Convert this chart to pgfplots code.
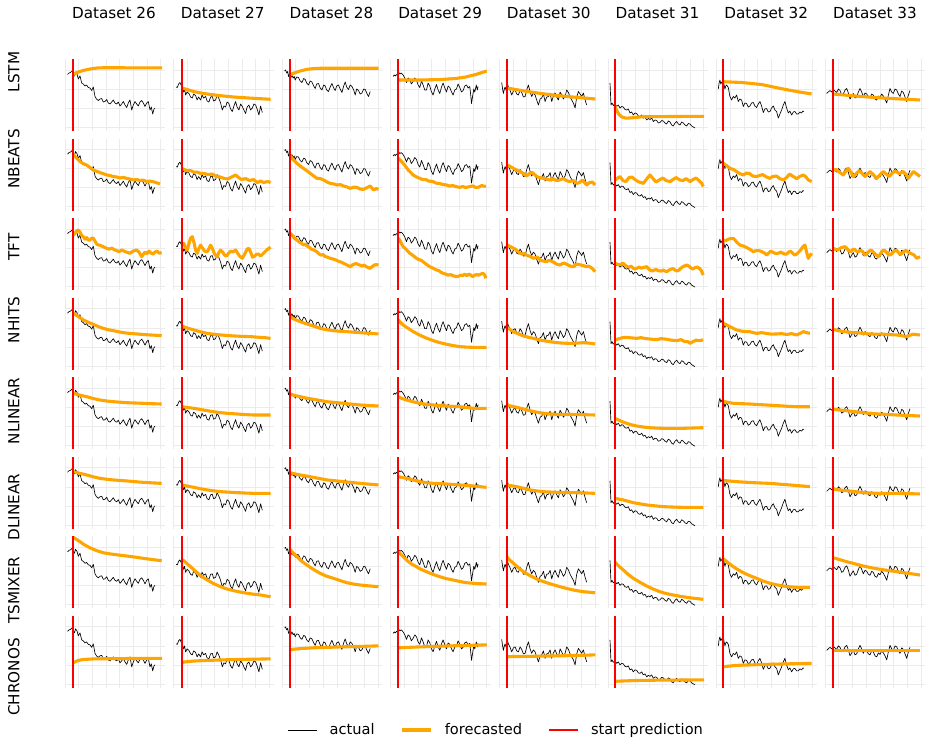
\documentclass[border=0pt]{standalone}
\usepackage{pgfplots}
\pgfplotsset{compat=1.18}
\usepackage{pgfplotstable}
\usepackage{fontspec}
\setmainfont{DejaVu Sans}
\definecolor{fcorange}{HTML}{FFA500}
\definecolor{gridgray}{HTML}{EBEBEB}

% actual series, x and y in panel units (y measured from top)
\pgfplotstableread{
x y
2.5 15.5
4 14
5.5 13.5
7 12
8.3 14.5
9.5 17
10.5 13
12 15
13.3 20
15 17
16.7 24
18.3 25
20 27
21.5 26
23.3 28.5
25 29
26.7 31.5
28.3 28
30 37.5
31.5 40
33.3 41.5
35 40
36.7 39.5
38.3 43
40 42.5
41.7 40.5
43.3 44
45 45
46.7 43
48.3 41
50 44
51.7 45
53.3 43
55 47
56.7 45
58.3 42.5
60 46
61.7 48.5
63.3 44
65 41
66.7 51
68.3 46
70 42.5
71.7 45
73.3 47
75 43
76.7 41.5
78.3 44
80 47.5
81.7 44
83.3 42.5
85 51
86.3 48
87.7 55
89 50
90 49
}\actA
\pgfplotstableread{
x y
2.5 28
3.7 28.5
5 25
6.3 23.5
7.5 26
8.7 28.5
10 33
11 30
12 36
13.5 33
15.3 34.5
17 38
18.7 39
20 35
22 36.5
23.5 41
25 38
27 41
28.5 36
30 39
32 37.5
33.5 42
35.3 43
37 38
38.7 37.5
40 42
42 41
43.5 36
45.3 39.5
47 44
48.7 51
50.3 47
52 48
53.5 43
55.3 44.5
57 50
58.7 52.5
60.3 47
62 42.5
63.5 48
65.3 51
67 45
68.7 47.5
70.3 51
72 54.5
73.5 48
75.3 46
77 51
78.7 49
80.3 45
82 46
83.5 50
85.3 56
87 47
88.7 53.5
}\actB
\pgfplotstableread{
x y
2.5 12
3.3 11
4.5 14
5.5 12.5
6.3 17.5
7.5 15
8.5 19
9.7 16
11 19
12 17.5
13 21
14.5 18
16.3 18.5
18 22
19.7 23.5
21.5 19.5
23 20.5
24.5 24
26.3 26
28 22
29.7 23
31.5 27
33 29.5
34.5 25
36.3 24.5
38 29
39.7 31
41.5 26
43 27
44.5 31
46.3 32.5
48 28
49.7 24.5
51.5 29
53 31.5
54.5 27
56.3 26
58 30
59.7 33.5
61.5 27
63 23
64.5 28
66.3 30.5
68 26
69.7 27.5
71.5 31
73 36
74.5 30
76.3 31.5
78 35
79.7 34
81.5 30
83 30.5
84.5 34
86.3 37.5
88 32.5
}\actC
\pgfplotstableread{
x y
2.3 17.5
3.5 16
4.5 17
5.7 15.5
7 16.5
8 13.5
9 15
10.5 14
12.3 16
14 19
15.7 23.5
17.3 19
19 20.5
20.5 25
22.3 22.5
24 19
25.7 21
27.3 26
29 28.5
30.7 22
32.3 26
34 31
35.7 31
37.3 24
39 27
40.7 33
42.3 36
44 30
45.7 25.5
47.3 31
49 34.5
50.7 28
52.3 24
54 29
55.7 33
57.3 27
59 28.5
60.7 33
62.3 36
64 31
65.7 30
67.3 25
69 28.5
70.7 33
72.3 31.5
74 27
75.7 26
77.3 29
79 27.5
80 37
80.7 44.5
82 36
83 30
84 33
85.5 26
86.5 31
87.3 27.5
}\actD
\pgfplotstableread{
x y
2.3 23.5
3.2 30
4 34.5
5 30
5.7 28
7 32
8 24.5
9 28
10.5 31
12.3 36
14 32
15.7 31
17.3 35
19 36
20.7 31
22.3 33.5
24 38
25.7 37.5
27.3 31
29 26
30.7 33
32.3 37.5
34 34
35.7 36
37.3 41
39 46
40.7 40
42.3 39
44 35
45.7 42.5
47.3 38
49 37.5
50.7 34
52.3 42.5
54 37
55.7 34
57.3 38
59 41
60.7 33
62.3 36
64 40
65.7 37.5
67.3 31
69 33.5
70.7 38
72.3 41
74 44
75.7 49
77.3 38
79 32.5
80.7 35
82.3 37.5
84 34
85.7 41
87.3 46
}\actE
\pgfplotstableread{
x y
2 24
2.5 35
3 46
4 44
5.3 46.5
7 45
8.7 47.5
10.3 46
12 49
13.7 47.5
15.3 48
17 50.5
18.7 51
20.3 50
22 54
23.7 53
25.3 56
27 54
28.7 54.5
30.3 57
32 57.5
33.7 56
35.3 59
37 58
38.7 61
40.3 59.5
42 60.5
43.7 59
45.3 62.5
47 61
48.7 61.5
50.3 64
52 63.5
53.7 61.5
55.3 62
57 64
58.7 65
60.3 62
62 63
63.7 66
65.3 67
67 64
68.7 62.5
70.3 65
72 66
73.7 63
75.3 64
77 66
78.7 67
80.3 64.5
82 65
83.7 67
85.3 68
87 69
}\actF
\pgfplotstableread{
x y
1.7 30
2.5 24
3.3 21
4.2 25
5 23.5
5.8 22
6.7 20.5
7.5 26
8.3 30
9.2 27
10 26
11.7 28.5
13.3 37.5
15 41
16.7 37.5
18.3 39
20 36
21.7 42.5
23.3 40
25 41
26.7 47.5
28.3 44
30 44.5
31.7 48
33.3 47
35 44
36.7 43.5
38.3 47
40 48.5
41.7 45
43.3 42.5
45 47
46.7 53.5
48.3 50
50 49.5
51.7 53
53.3 52.5
55 49
56.7 47
58.3 51
60 52.5
61.7 59
63.3 55
65 51
66.7 46
68.3 42.5
70 49
71.7 54
73.3 52
75 56
76.7 53
78.3 52.5
80 55
81.7 55
83.3 53
85 54
86.3 52
87.3 52.5
}\actG
\pgfplotstableread{
x y
1.5 34.5
3 33
4.8 31.5
6.5 33
8.1 30.5
9.8 32
11.5 33.5
13.2 30
14.8 31.5
16.5 36
18.1 35
19.8 31
21.5 29.5
23.2 34
24.8 40
26.5 37
28.1 34.5
29.8 39
31.5 38
33.2 33
34.8 29.5
36.5 33
38.1 37.5
39.8 34
41.5 35
43.2 38
44.8 39
46.5 35
48.1 36
49.8 40
51.5 41
53.2 37
54.8 38.5
56.5 35
58.1 37
59.8 40
61.5 44
63.2 36
64.8 29.5
66.5 33
68.1 34.5
69.8 30
71.5 31
73.2 35
74.8 37.5
76.5 32
78.1 33.5
79.8 38
81.5 42.5
83.2 36
84.8 31.5
}\actH

\pgfplotsset{
 panel/.style={
  scale only axis, width=100pt, height=72pt, anchor=north west,
  xmin=0, xmax=100, ymin=0, ymax=72, y dir=reverse,
  axis line style={draw=none},
  xtick={0,13.7,27.4,41.1,54.8,68.5,82.2,95.9},
  ytick={11,30.3,49.3,68.3},
  xticklabels={}, yticklabels={},
  major tick length=0pt,
  grid=major, major grid style={draw=gridgray, line width=0.9pt},
  clip=false,
 },
 act/.style={black, line width=0.65pt, line join=round},
 fc/.style={fcorange, line width=3.1pt, line join=round},
 sp/.style={red, line width=2pt},
}

\newcommand{\panel}[5]{%
\begin{axis}[panel, at={({(65+108.6*#1)*1pt},{-(59+79.55*#2)*1pt})}]
\addplot[act] table {#3};
\addplot[fc] coordinates {#4};
\addplot[sp] coordinates {(#5,0) (#5,72)};
\end{axis}}

\newcommand{\lab}{\fontsize{15.2}{18}\selectfont}
\newcommand{\leg}{\fontsize{14.6}{17}\selectfont}

\begin{document}
\begin{tikzpicture}
\path[use as bounding box] (0pt,0pt) rectangle (930pt,-744pt);

% titles
\foreach \c/\t in {0/26,1/27,2/28,3/29,4/30,5/31,6/32,7/33}{
  \node[anchor=base, inner sep=0pt] at ({(114+108.7*\c)*1pt},-18.3pt) {\lab Dataset \t};
}
% row labels
\foreach \yy/\t in {72/LSTM,159/NBEATS,247/TFT,320/NHITS,411/NLINEAR,507/DLINEAR,590/TSMIXER,677/CHRONOS}{
  \node[rotate=90, anchor=base, inner sep=0pt] at (19.5pt,{-\yy*1pt}) {\lab \t};
}

% ---------- LSTM ----------
\panel{0}{0}{\actA}{(8.3,15.5)(12,13.5)(18,11.5)(25,10)(32,9)(40,8.7)(60,8.8)(97,8.8)}{8.3}
\panel{1}{0}{\actB}{(8.4,29)(20,32.5)(30,34.5)(45,36.5)(60,38)(75,39)(97,40.3)}{8.4}
\panel{2}{0}{\actC}{(7.8,16)(12,14)(18,12)(25,10.3)(32,9.5)(40,9.2)(60,9.2)(96.3,9.3)}{7.8}
\panel{3}{0}{\actD}{(7.5,21)(30,21)(50,20.5)(65,19.5)(75,18)(85,15.5)(96,12)}{7.5}
\panel{4}{0}{\actE}{(7.3,29)(25,32)(40,34.3)(55,36.2)(70,37.7)(96,40)}{7.3}
\panel{5}{0}{\actF}{(7,47.7)(9,52)(11,55.5)(14,58)(18,59.2)(24,58.8)(35,57.7)(96,57.3)}{7}
\panel{6}{0}{\actG}{(6.7,22.7)(25,23.5)(45,25.5)(65,29.7)(80,32.5)(95,35)}{6.7}
\panel{7}{0}{\actH}{(8.1,35)(30,37)(50,38.5)(70,39.7)(95,41)}{8.1}

% ---------- NBEATS ----------
\panel{0}{1}{\actA}{(8.3,16)(10,18)(13,21)(15,23)(18,25)(21.7,26.5)(25,29)(28.3,31.4)(31,32.5)(35,34)(38,35)(41.7,36.4)(45,37)(48.3,38)(52,38.5)(55,39.5)(58,38.8)(61.7,39.8)(65,40.5)(68.3,41.4)(72,41)(75,42)(78,41.5)(81.7,43)(85,42.5)(88,43)(91,44)(95,45.4)}{8.3}
\panel{1}{1}{\actB}{(8.4,30)(10.3,30.8)(13,32)(17,32)(20,33.5)(23.7,33.5)(27,35)(30.3,34.8)(34,36)(38.7,35.5)(42,37.5)(45,38)(50.3,39.8)(54,40.5)(57,39)(62,36.4)(65,39)(68,41)(72,40)(76,42)(80,41)(83.7,44)(87,42.5)(90,44)(94,43)(97,44)}{8.4}
\panel{2}{1}{\actC}{(7.8,17)(10,20)(14.7,24.8)(18,27.5)(21.3,29.8)(25,32.5)(28,34.8)(31,37)(34.7,39.8)(38,40)(41.3,41.4)(45,43.5)(48,44.8)(52,45.5)(55,46.5)(58,46)(61.3,47.4)(65,48.5)(68,49.8)(72,48.5)(75,49)(78,50.5)(81.3,50.8)(85,49)(88,47.4)(91.3,51.4)(94,50)(96.3,50.8)}{7.8}
\panel{3}{1}{\actD}{(7.5,19.8)(10,22)(12.3,24.8)(15,28)(17.3,31.4)(20,34)(22.3,36.4)(25,38)(29,39.8)(32,41)(35,41)(38,42.5)(42.3,43)(45,44.5)(49,45)(52,46)(55.7,46.4)(59,47.5)(62,47)(65,48)(69,48.8)(72,48)(75,49)(79,48)(82.3,47.4)(85,49)(88,48.5)(91,47)(95,48)}{7.5}
\panel{4}{1}{\actE}{(7.3,26.4)(10,27.5)(14,29.8)(17,31.5)(20.7,33)(24,35)(27.3,37.4)(30,35)(33,34)(37.3,38)(40,39)(44,39.8)(47,40.5)(50,41.5)(54,40.5)(57.3,42)(60,41.5)(64,40)(67,42)(70,43)(74,42)(77.3,44.8)(80,44)(83,41.5)(87.3,46.4)(90,44)(93,43.5)(95.7,46.4)}{7.3}
\panel{5}{1}{\actF}{(7,41.4)(9,40)(12,38)(15,42)(18,43)(21,39)(24,38.5)(27,41)(30,43)(35.3,44.8)(39,40)(42,36.4)(45,40)(48,43.5)(52,41)(55,39.5)(58,42)(62,43)(65,41)(68,39)(72,41.5)(75,42)(78,40)(82,43)(85,41)(88,39.5)(91,42)(93.7,44.8)(95.3,48)}{7}
\panel{6}{1}{\actG}{(6.7,24.8)(10,27)(13.3,29.8)(17,31)(20,33)(23,35)(26.7,36.4)(30,34.5)(33,35)(36,37.5)(40,38)(43,37)(46,36)(50,38.5)(53.3,39.8)(56,38)(60,37.5)(63,40)(66.7,41.4)(70,39)(73,35.5)(76,37.5)(80,40)(83,38)(86.7,36.4)(89,38)(91.7,41.4)(95,43)}{6.7}
\panel{7}{1}{\actH}{(8.1,31.4)(11,31)(14,33.5)(18.1,36.4)(21,32)(23.1,29.8)(26,34)(28.1,38)(31,35)(34,32)(37,35)(40,38)(44.8,33)(48,36)(51.5,39.8)(55,36)(58.1,33)(61,35.5)(64,38)(67,34.5)(70,32.5)(74,35)(78.1,33)(81,36)(83.1,39.8)(86,36)(88.1,33)(91,35)(94.8,38)}{8.1}

% ---------- TFT ----------
\panel{0}{2}{\actA}{(8.3,17)(10,15.2)(11.5,13)(13.3,11.9)(15,14)(16.5,17)(18.3,18.6)(20,21)(21.7,19.5)(23.3,21.9)(25,22)(26.7,20)(28.3,20.2)(30,23)(31.7,26)(33.3,26.9)(35,27)(36.7,28)(38.3,28.6)(41,30)(44,31)(47,30)(49,31.5)(51.7,32.6)(54,33.5)(57,32)(60,33.5)(63,34.5)(65,35.2)(68,33)(71.7,31.9)(74,34)(76.7,38.6)(78.5,36)(80,34)(82,35.5)(84,33)(86,35)(88,36)(90,34)(92,33)(94,35)(96.7,34.6)}{8.3}
\panel{1}{2}{\actB}{(8.4,25.2)(10.3,25.2)(12,30)(13.7,31.9)(15.5,25)(17,20)(18.7,18.6)(20.5,25)(22,32)(23.7,35.2)(25.5,30)(27,27)(29,30)(31,33)(33.7,33.6)(35.5,30)(37,27)(39,31)(41,36)(43.7,38.6)(45.5,34)(47,32)(49,34)(51,37)(53,38)(55,35)(57,33)(59,34)(62,31.9)(64,35)(66,38)(68.7,40.2)(70.5,37)(72,34)(73.5,31)(75.3,30.2)(77,34)(79,39)(81,38)(83,36)(85,36)(87,38)(89,36)(91,34)(93,32)(95.3,30.2)(97,29)}{8.4}
\panel{2}{2}{\actC}{(7.8,15.2)(10,17)(12,20)(14.7,21.9)(17,24)(19,25)(21.3,26.9)(23,26)(25,28)(27,29)(29,31)(31,31.5)(34.7,33.6)(37,36)(39,37)(41,36.5)(43,38.5)(45,39)(48,40.2)(51,41)(54,42)(57,43.5)(59,44)(61.3,45.2)(63,46)(65,47)(68,48.6)(70,47)(72,46)(74,45.5)(76,46.5)(78,47)(80,48)(82,47)(84,48.5)(86,49.5)(88,50.2)(90,48.5)(92,47)(94,46.5)(96.3,46.9)}{7.8}
\panel{3}{2}{\actD}{(7.5,20.2)(9,22)(10.5,25)(12.3,28.6)(14,30)(16,32)(19,35.2)(21,36.5)(23,38)(25.7,40.2)(28,41.5)(30,42)(32.3,43.6)(34,45)(36,46.5)(39,48.6)(41,49.5)(43,50.5)(45.7,51.9)(48,52.5)(50,54)(52.3,55.2)(55,56)(57,57)(60,56.5)(62,57.5)(65.7,58.6)(68,58)(70,57)(72,57.5)(74,56)(76,57.5)(78,56)(80,57)(82,58.5)(84,57)(86,56.5)(88,57)(90,56)(92.3,55.2)(94,57)(95,60.2)}{7.5}
\panel{4}{2}{\actE}{(7.3,26.9)(9,27.5)(11,28.5)(14,30.2)(16,31)(18,33)(20.7,35.2)(23,36)(25,35.5)(27,37)(30,38)(32,39)(34,40.2)(36,39.5)(38,39)(40,41)(42,42.5)(44,43)(47.3,43.6)(49,42.5)(51,42.5)(53,43.5)(55,44.5)(57,46)(60.7,46.9)(63,45.5)(65,45)(67,46)(69,47)(71,48)(74,48.6)(76,47)(78,46)(80,46.5)(82,47)(84,47.5)(87.3,48.6)(89,48)(91,49)(93,50.5)(95.7,53.6)}{7.3}
\panel{5}{2}{\actF}{(7,45.2)(9,46)(11,47)(13,46)(15,45)(17,47)(19,48.5)(21,49)(23,48)(25.3,50.2)(27,51)(29,50)(31,49)(33,50)(35,49.5)(38.7,48.6)(40,50)(42,52)(44,53)(46,52)(48,51.5)(50,52.5)(53,53)(55,52)(58.7,53.6)(61,52)(63,51)(65,50.5)(67,52)(69,53)(71,52)(73,50)(75,48.5)(78.7,46.9)(81,48)(83,50)(85,51)(87,49.5)(89,49)(91,50)(93,52)(95.3,56.9)}{7}
\panel{6}{2}{\actG}{(6.7,21.9)(8.5,23)(10,22)(12,21)(14,20.5)(16.7,20.2)(18.5,22)(20,24)(23.3,26.9)(25,27.5)(27,28)(29,29)(31,30)(33,31)(36.7,33.6)(38,33)(40,32.5)(42,32.5)(44,33)(46,34)(48,35)(50,36.9)(52,35)(54,33)(56,34)(58,35)(60,35.5)(62,35)(64,34)(66,35)(68,36)(70,36)(72,34)(74,33)(76,35)(78,37)(80,36)(82,34)(84,32)(86,29)(88.3,26.9)(90,34)(91.7,40.2)(93,38)(95,35.2)}{6.7}
\panel{7}{2}{\actH}{(8.1,30.2)(10,31)(12,32)(14,31)(16,29.5)(19.8,28.6)(21.5,30)(23,32)(25,34)(27,32)(29,31)(31,33)(33,34)(35,32)(37,33)(39.8,36.9)(42,35)(44,33)(46,32)(48,34)(50,36)(53.1,38.6)(55,36)(57,33)(59,32)(61,34)(63,36)(65,37)(67,35)(69,33)(71,32)(73,34)(75,36.5)(77,35)(79,33)(81,32.5)(83,34)(85,35)(87,36)(89,37)(91.5,40.2)(94.8,38.6)}{8.1}

% ---------- NHITS ----------
\panel{0}{3}{\actA}{(8.3,15.7)(12,18)(18.3,22.3)(23,24.5)(28.3,26.7)(33,28.8)(38.3,30.7)(43,32)(48.3,33)(53,34)(58.3,35)(65,35.8)(71.7,36.3)(78,36.8)(85,37.3)(91,37.6)(96.7,38)}{8.3}
\panel{1}{3}{\actB}{(8.4,28.3)(14,30.5)(20.3,32.3)(27,34.2)(33.7,35.7)(40,36.6)(47,37.3)(53,37.8)(60.3,38.3)(68,38.7)(77,39)(85,39.6)(91,40)(97,40.7)}{8.4}
\panel{2}{3}{\actC}{(7.8,19)(12,21.5)(18,24)(23,25.8)(28,27.3)(33,29)(38,30.7)(44,32)(51.3,33)(58,33.6)(64.7,34)(71,34.5)(78,35)(86,35.6)(96.3,36.3)}{7.8}
\panel{3}{3}{\actD}{(7.5,22.3)(10,25)(12.3,27.3)(15.5,29.5)(19,31.7)(22,33.8)(25.7,35.7)(29,37.5)(32.3,39)(35.5,40.4)(39,41.7)(44,43.5)(49,45)(54,46.2)(59,47.3)(64,48.2)(69,49)(75,49.4)(82.3,49.7)(89,49.8)(95.7,49.7)}{7.5}
\panel{4}{3}{\actE}{(7.3,29.7)(10.5,31.8)(14,34)(19,36.3)(24,38.3)(29,39.6)(34,40.7)(39,41.9)(44,43)(50,44)(57.3,45)(64,45.5)(70.7,45.7)(77,45.5)(84,45)(90,45.5)(95.7,46.3)}{7.3}
\panel{5}{3}{\actF}{(7,42.3)(9.5,41.5)(12,40.7)(15,40)(18.7,39.7)(23,40.2)(28.7,40.7)(33,40)(38,41)(43,41.5)(48.7,42)(53,41)(58,41.5)(63,42.5)(68.7,43)(73,42)(77,44)(80,44)(82,45.7)(85,44)(88,42.5)(91,43)(95.3,42.3)}{7}
\panel{6}{3}{\actG}{(6.7,25.7)(10,27.3)(13.3,29)(16.7,30.7)(20,32.3)(25,33.5)(30,34)(33.3,34)(36.7,35)(40,35.7)(45,35)(50,35.8)(55,36.5)(60,36.3)(65,36)(70,36.8)(75,36)(80,37.3)(83,36)(86.7,34)(90,35)(93.3,35.7)}{6.7}
\panel{7}{3}{\actH}{(8.1,31.7)(13,33)(18.1,34)(25,34.6)(31.5,35)(38,35.8)(44.8,36.3)(51,36.5)(58,36.5)(65,37)(71.5,37.3)(76,38)(81.5,39)(85,37.5)(88,36.5)(91,37)(94.8,37.3)}{8.1}

% ---------- NLINEAR ----------
\panel{0}{4}{\actA}{(8.3,16.1)(15,18)(21.7,19.5)(28,21.3)(35,22.8)(41.7,23.8)(48.3,24.5)(55,25)(61.7,25.5)(70,25.8)(78.3,26.1)(87,26.5)(96.7,26.8)}{8.3}
\panel{1}{4}{\actB}{(8.4,29.5)(14,30.3)(20.3,31.1)(27,32.3)(33.7,33.5)(40,34.5)(47,35.5)(55,36.2)(63.7,36.8)(72,37.4)(80.3,37.8)(88,37.8)(97,37.8)}{8.4}
\panel{2}{4}{\actC}{(7.8,16.8)(12,18.2)(18,19.5)(25,21)(31.3,22.1)(38,23.3)(44.7,24.5)(53,25.3)(61.3,26.1)(70,27)(78,27.8)(87,28.3)(96.3,28.8)}{7.8}
\panel{3}{4}{\actD}{(7.5,19.5)(11,21.2)(15.7,22.8)(22,24.5)(29,26.1)(35,27)(42.3,27.8)(49,28.3)(55.7,28.8)(62,29.2)(69,29.5)(76,30.3)(82.3,31.1)(89,31.1)(95.7,31.1)}{7.5}
\panel{4}{4}{\actE}{(7.3,27.8)(12,29)(17.3,30.1)(24,31.8)(30.7,33.5)(37,34.9)(44,36.1)(50,36.7)(57.3,37.1)(65,37.1)(74,37.1)(85,37.5)(95.7,37.8)}{7.3}
\panel{5}{4}{\actF}{(7,41.1)(9.5,42.3)(12,43.5)(15,44.8)(18.7,46.1)(23,47.5)(28.7,48.8)(35,49.8)(42,50.5)(48,50.9)(55.3,51.1)(65,51.1)(75.3,51.1)(85,50.8)(95.3,50.5)}{7}
\panel{6}{4}{\actG}{(6.7,24.2)(8.3,24.5)(12,25.3)(16.7,26.1)(25,26.5)(33.3,26.8)(41,27.3)(50,27.8)(58,28.3)(66.7,28.8)(73,29.2)(80,29.5)(93.3,29.5)}{6.7}
\panel{7}{4}{\actH}{(8.1,32.1)(14,32.8)(21.5,33.5)(30,34.5)(38.1,35.5)(46,36.2)(54.8,36.8)(63,37.3)(71.5,37.8)(83,38.3)(94.8,38.8)}{8.1}

% ---------- DLINEAR ----------
\panel{0}{5}{\actA}{(8.3,14.9)(15,16.6)(21.7,18.2)(28,20)(35,21.6)(41.7,22.5)(48.3,23.2)(55,23.7)(61.7,24.2)(70,24.9)(78.3,25.6)(87,26.1)(96.7,26.6)}{8.3}
\panel{1}{5}{\actB}{(8.4,28.2)(14,29.4)(20.3,30.6)(27,32)(33.7,33.2)(40,34.1)(47,34.9)(55,35.4)(63.7,35.9)(72,36.3)(80.3,36.6)(97,36.6)}{8.4}
\panel{2}{5}{\actC}{(7.8,15.9)(12,17)(18,18.2)(25,19.4)(31.3,20.6)(38,21.9)(44.7,23.2)(53,24)(61.3,24.9)(70,25.8)(78,26.6)(87,27.4)(96.3,28.2)}{7.8}
\panel{3}{5}{\actD}{(7.5,19.9)(11,20.7)(15.7,21.6)(22,23.2)(29,24.9)(35,25.8)(42.3,26.6)(49,26.9)(55.7,27.2)(62,27.7)(69,28.2)(76,28.7)(82.3,29.2)(89,29.9)(95.7,30.6)}{7.5}
\panel{4}{5}{\actE}{(7.3,28.2)(12,29)(17.3,29.9)(24,31.5)(30.7,33.2)(37,34.1)(44,34.9)(50,35.3)(57.3,35.6)(67,35.8)(77.3,35.9)(86,36.2)(95.7,36.6)}{7.3}
\panel{5}{5}{\actF}{(7,41.6)(11,42.4)(15.3,43.2)(20,44.5)(25.3,45.9)(32,47.1)(38.7,48.2)(47,49.1)(55.3,49.9)(65,50.3)(75.3,50.6)(85,50.6)(95.3,50.6)}{7}
\panel{6}{5}{\actG}{(6.7,23.7)(8.3,23.9)(14,24.4)(20,24.9)(28,25.4)(36.7,25.9)(45,26.3)(53.3,26.6)(63,27.4)(73.3,28.2)(83,29)(93.3,29.9)}{6.7}
\panel{7}{5}{\actH}{(8.1,32.6)(14,33.2)(21.5,33.9)(30,34.9)(38.1,35.9)(46,36.3)(54.8,36.6)(63,36.6)(71.5,36.6)(83,36.9)(94.8,37.2)}{8.1}

% ---------- TSMIXER ----------
\panel{0}{6}{\actA}{(8.3,1)(11,2.8)(15,5.4)(18,7.6)(21.7,9.7)(25,11.5)(28.3,13)(33,14.8)(38.3,16.4)(43,17.3)(48.3,18)(55,18.9)(61.7,19.7)(70,20.8)(78.3,22)(87,23.2)(96.7,24.4)}{8.3}
\panel{1}{6}{\actB}{(8.4,23.5)(10.3,24.4)(13.5,27.5)(17,30.4)(20.3,33.5)(23.7,36.4)(28,40.2)(33.7,43.7)(40,47.3)(47,50.4)(53,52.6)(60.3,54.4)(67,55.8)(73.7,57)(80,57.9)(87,58.7)(92,59.6)(97,60.4)}{8.4}
\panel{2}{6}{\actC}{(7.8,13)(9.7,15.4)(13,18.5)(18,23.7)(23,27.5)(28,31)(33,34.2)(38,37)(44,39.7)(51.3,42)(58,44.3)(64.7,46.4)(71,47.7)(78,48.7)(87,49.6)(96.3,50.4)}{7.8}
\panel{3}{6}{\actD}{(7.5,15.5)(8.3,16.4)(12,20)(15.7,23.7)(20,27.3)(25.7,30.4)(30,33)(35.7,35.4)(42,38)(49,40.4)(55,42.2)(62.3,43.7)(69,45.2)(75.7,46.4)(85,47.2)(95.7,47.7)}{7.5}
\panel{4}{6}{\actE}{(7.3,20.4)(10,23.5)(14,27)(18,30.5)(24,35.4)(29,38.4)(34,41)(40,43.9)(47.3,46.4)(54,48.5)(60.7,50.4)(67,52.1)(74,53.7)(79,54.6)(84,55.4)(95.7,56.4)}{7.3}
\panel{5}{6}{\actF}{(7,25.5)(8,27)(11,30)(15.3,33.7)(20,38)(25.3,42)(32,46)(38.7,49.7)(45,52.7)(52,55.4)(58,57.2)(65.3,58.7)(72,60)(78.7,61)(87,62.1)(95.3,63)}{7}
\panel{6}{6}{\actG}{(6.7,22.5)(8.3,23.7)(12,26.8)(16.7,30.4)(21,33.2)(26.7,36.4)(33,39.3)(40,42)(46,44.6)(53.3,47)(60,48.5)(66.7,49.7)(73,50.5)(80,51)(87,51.1)(93.3,51)}{6.7}
\panel{7}{6}{\actH}{(8.1,21.4)(14,23.2)(21.5,25.4)(30,27.6)(38.1,29.7)(46,31.4)(54.8,33)(63,34.2)(71.5,35.4)(83,37)(94.8,38.7)}{8.1}

% ---------- CHRONOS ----------
\panel{0}{7}{\actA}{(8.3,47)(10,46)(12,45)(15,44.2)(18,43.7)(24,43.3)(30,43)(50,42.8)(70,42.6)(97,42.5)}{8.3}
\panel{1}{7}{\actB}{(8.4,46.5)(12,46)(20,45.2)(30,44.7)(50,44)(70,43.5)(97,43)}{8.4}
\panel{2}{7}{\actC}{(7.8,34)(12,33.3)(20,32.6)(30,32)(45,31.5)(60,31)(80,30.5)(96.3,30)}{7.8}
\panel{3}{7}{\actD}{(7.5,32)(15,31.6)(30,31)(45,30.5)(60,30)(80,29.5)(96,29)}{7.5}
\panel{4}{7}{\actE}{(7.3,41)(12,40.7)(30,40.5)(45,40.2)(60,40)(80,39.5)(96,39)}{7.3}
\panel{5}{7}{\actF}{(7,65.5)(12,65.2)(30,64.6)(50,64.3)(70,64.2)(96,64)}{7}
\panel{6}{7}{\actG}{(6.7,51)(10,50.5)(20,49.5)(35,49)(50,48.5)(70,48)(95,47.5)}{6.7}
\panel{7}{7}{\actH}{(8.1,35)(30,35)(60,35)(95,35)}{8.1}

% ---------- legend ----------
\begin{axis}[at={(496.5pt,-730pt)}, anchor=center, hide axis, scale only axis,
  width=10pt, height=10pt, xmin=0, xmax=1, ymin=0, ymax=1,
  legend columns=3,
  legend style={draw=none, fill=none, at={(0.5,0.5)}, anchor=center,
    font=\leg, inner sep=0pt,
    /tikz/every odd column/.append style={column sep=10pt},
    /tikz/every even column/.append style={column sep=24pt}},
  legend image code/.code={\draw[#1] (0pt,0pt) -- (29pt,0pt);},
]
\addlegendimage{act}\addlegendentry{actual}
\addlegendimage{fc}\addlegendentry{forecasted}
\addlegendimage{sp}\addlegendentry{start prediction}
\end{axis}
\end{tikzpicture}
\end{document}
